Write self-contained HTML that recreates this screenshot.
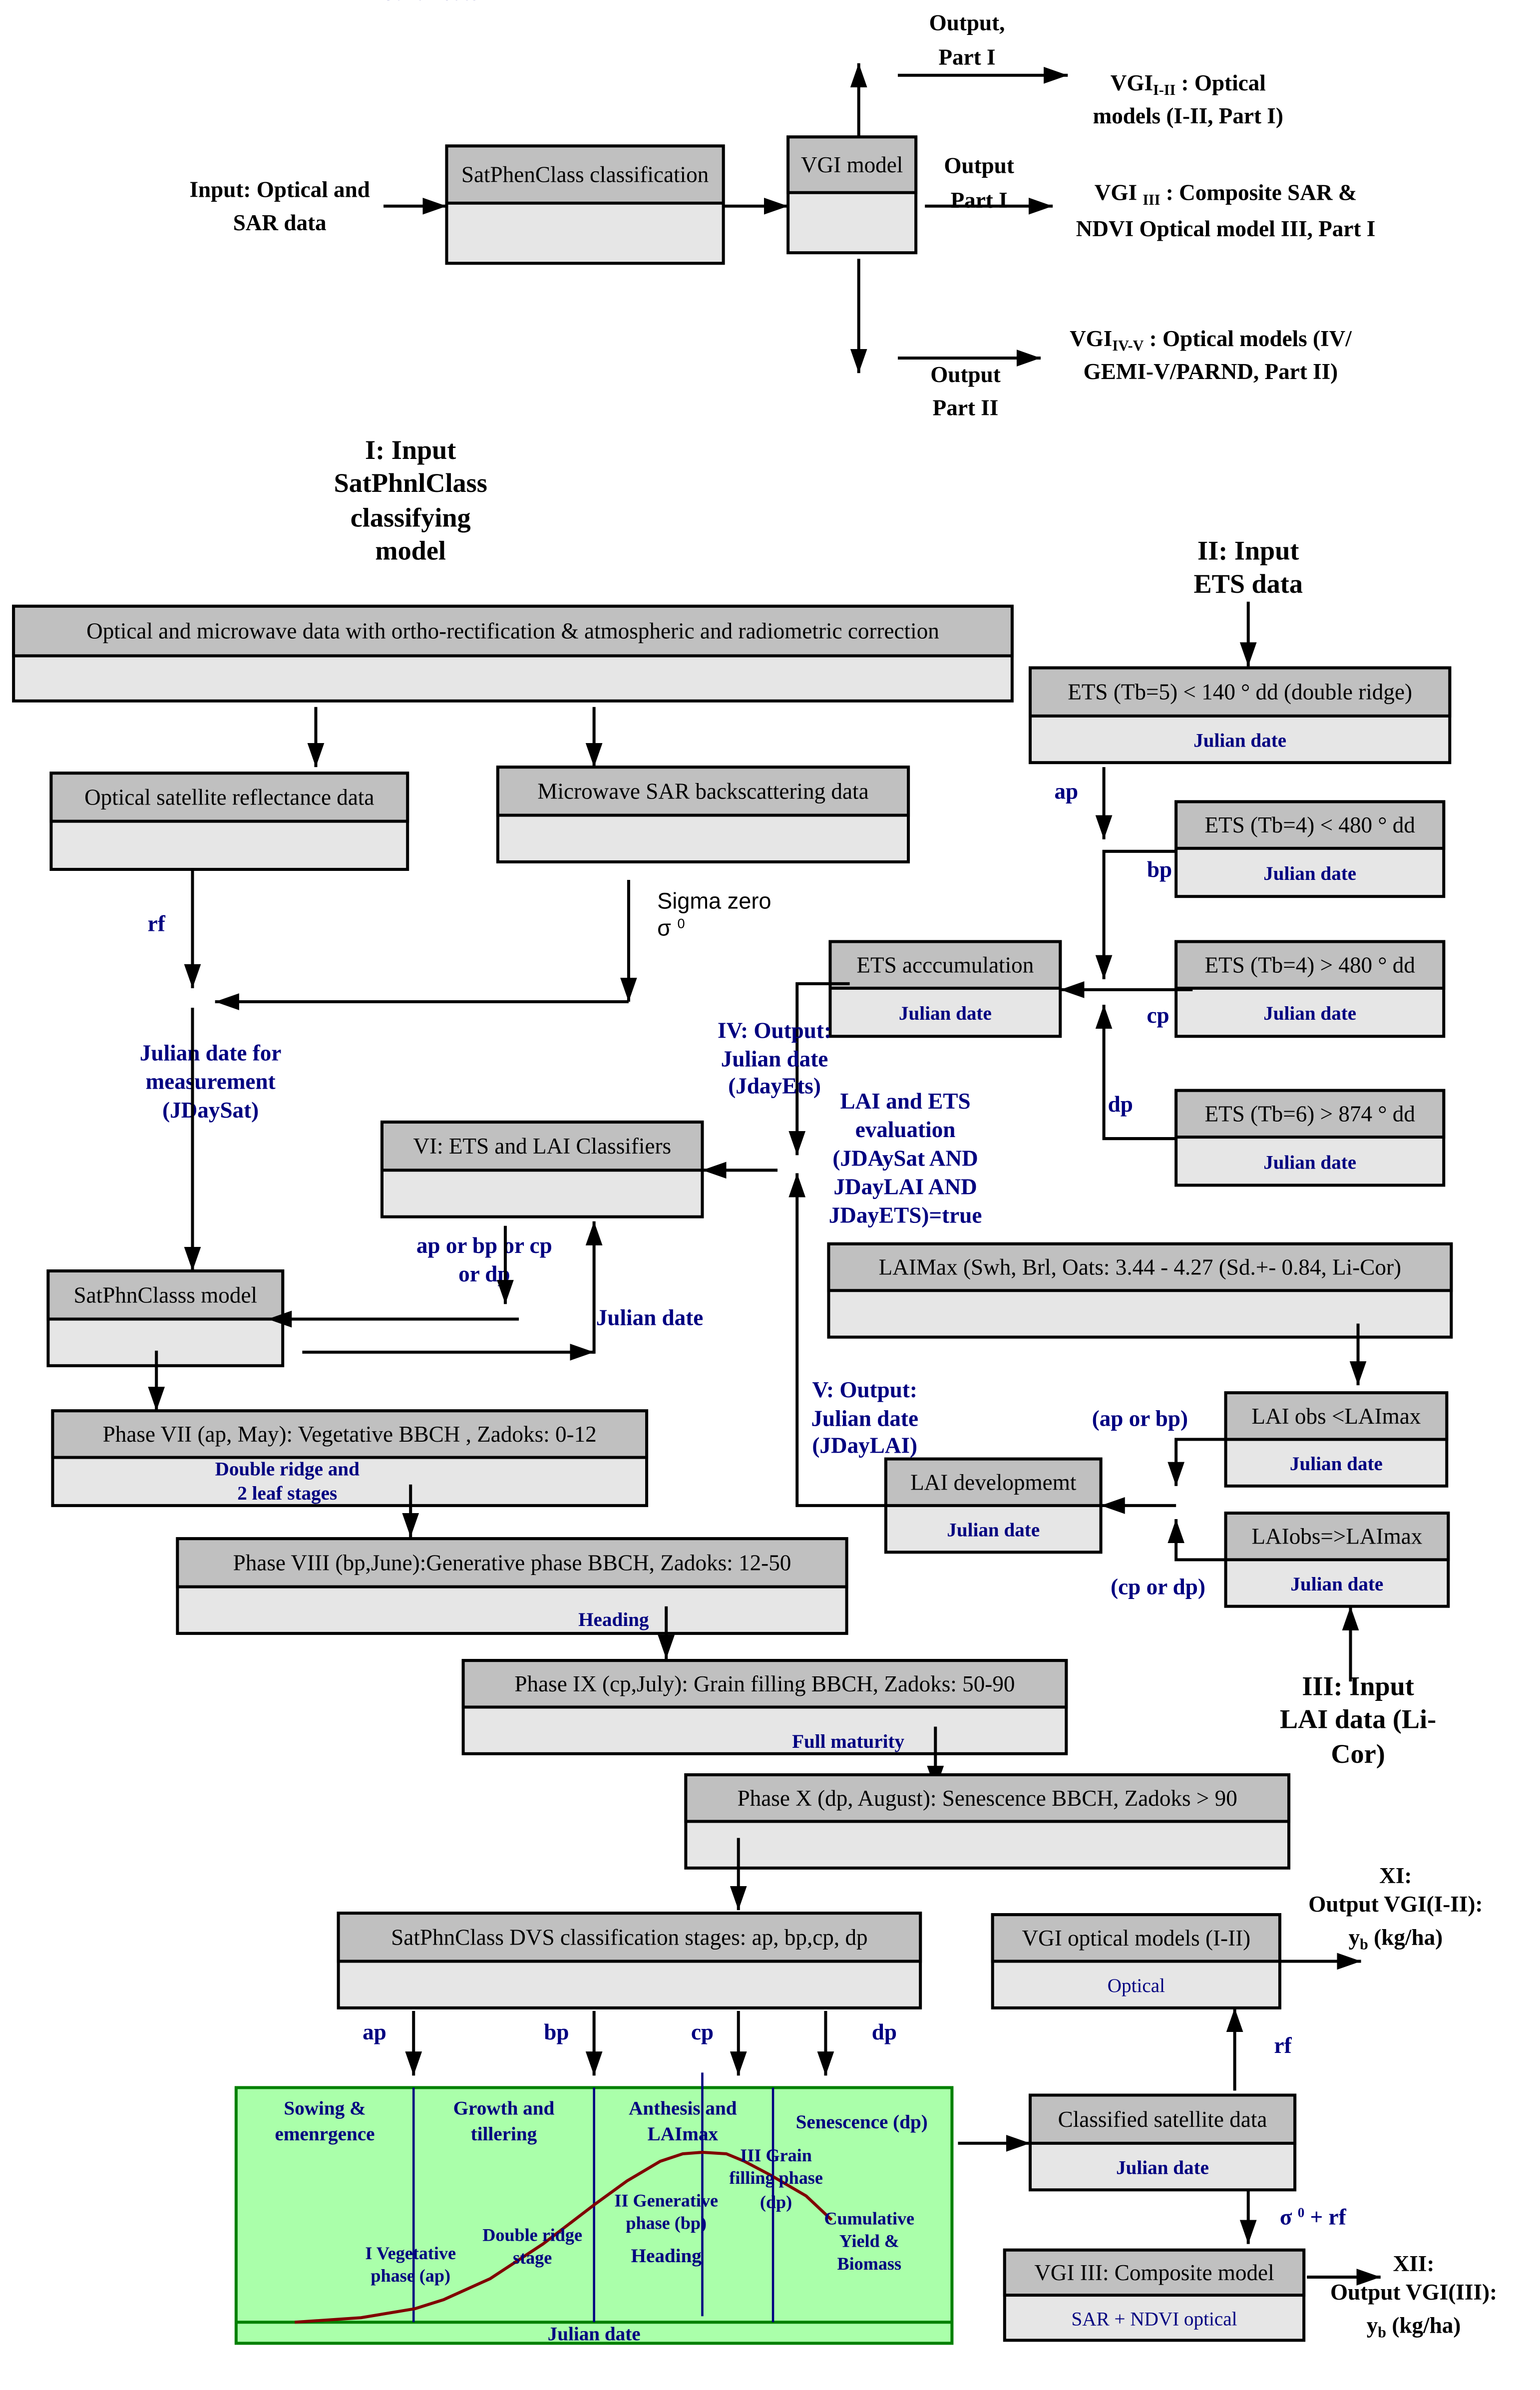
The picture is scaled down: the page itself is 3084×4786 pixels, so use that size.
<!DOCTYPE html>
<html><head><meta charset="utf-8"><style>html,body{margin:0;padding:0;background:#fff}svg{display:block}</style></head>
<body>
<svg id="s" xmlns="http://www.w3.org/2000/svg" width="3084" height="4786" viewBox="0 0 1024 1589" font-family="Liberation Serif, serif">
<defs><marker id="b" viewBox="0 0 10 10" refX="10" refY="5" markerWidth="16" markerHeight="16" markerUnits="userSpaceOnUse" orient="auto"><path d="M0,1.5 L10,5 L0,8.5z" fill="#000"/></marker></defs>
<rect x="157" y="1388" width="476" height="170" fill="#aaffaa" stroke="#008000" stroke-width="2"/>
<g id="g"></g>
</svg>
<script>
const g=document.getElementById('g');let h='';
const N='#000080';
function box(x1,y1,x2,y2,hy,t,sub,subBold=true){
 h+=`<rect x="${x1}" y="${y1}" width="${x2-x1}" height="${y2-y1}" fill="#e6e6e6" stroke="#000" stroke-width="2"/>`;
 h+=`<rect x="${x1}" y="${y1}" width="${x2-x1}" height="${hy-y1}" fill="#c0c0c0" stroke="#000" stroke-width="2"/>`;
 h+=`<text x="${(x1+x2)/2}" y="${(y1+hy)/2+5}" font-size="15" text-anchor="middle">${t}</text>`;
 if(sub)h+=`<text x="${(x1+x2)/2}" y="${(hy+y2)/2+5}" font-size="13" fill="${N}" text-anchor="middle" font-weight="${subBold?'bold':'normal'}">${sub}</text>`;
}
function ar(pts){h+=`<polyline points="${pts}" fill="none" stroke="#000" stroke-width="2" marker-end="url(#b)"/>`;}
function tx(x,ys,lines,o={}){lines.forEach((l,i)=>{h+=`<text x="${x}" y="${ys[i]}" font-size="${o.s||15}" fill="${o.c||'#000'}" font-weight="${o.b?'bold':'normal'}" text-anchor="${o.a||'middle'}" font-family="${o.f||'Liberation Serif, serif'}">${l}</text>`;});}
// top
box(297,97,481,175,135,'SatPhenClass classification');
box(524,91,609,168,128,'VGI model');
ar('255,137 297,137');ar('481,137 524,137');ar('571,91 571,42');ar('597,50 710,50');ar('615,137 700,137');ar('571,172 571,248');ar('597,238 692,238');
tx(186,[131,153],['Input: Optical and','SAR data'],{b:1,s:15});
tx(643,[20,43],['Output,','Part I'],{b:1});
tx(790,[60,82],['VGI<tspan font-size="10" dy="3">I-II</tspan><tspan dy="-3"> : Optical</tspan>','models (I-II, Part I)'],{b:1});
tx(651,[115,138],['Output','Part I'],{b:1});
tx(815,[133,157],['VGI <tspan font-size="10" dy="3">III</tspan><tspan dy="-3"> : Composite SAR &amp;</tspan>','NDVI Optical model III, Part I'],{b:1});
tx(805,[230,252],['VGI<tspan font-size="10" dy="3">IV-V</tspan><tspan dy="-3"> : Optical models (IV/</tspan>','GEMI-V/PARND, Part II)'],{b:1});
tx(642,[254,276],['Output','Part II'],{b:1});
tx(273,[305,327,350,372],['I: Input','SatPhnlClass','classifying','model'],{b:1,s:18});
box(9,403,673,466,436,'Optical and microwave data with ortho-rectification &amp; atmospheric and radiometric correction','');
tx(287,456,['Julian date'],{b:1,c:N,s:13});
ar('210,470 210,510');ar('395,470 395,510');
box(34,514,271,578,546,'Optical satellite reflectance data','');
box(331,510,604,573,542,'Microwave SAR backscattering data','');
tx(104,[619],['rf'],{b:1,c:N});
ar('128,578 128,657');ar('418,585 418,666');ar('418,666 143,666');
tx(437,[604,622],['Sigma zero','σ <tspan font-size="9" dy="-5">0</tspan>'],{a:'start',f:'Liberation Sans, sans-serif',s:15});
tx(140,[705,724,743],['Julian date for','measurement','(JDaySat)'],{b:1,c:N});
ar('128,670 128,845');
box(32,845,188,908,877,'SatPhnClasss model','');
box(254,746,467,809,778,'VI: ETS and LAI Classifiers','');
ar('517,778 467,778');
tx(322,[833,852],['ap or bp or cp','or dp'],{b:1,c:N});
ar('336,815 336,867');ar('395,900 395,812');ar('345,877 178,877');ar('201,899 395,899');
tx(432,[881],['Julian date'],{b:1,c:N});
ar('104,898 104,938');
box(35,938,430,1001,969,'Phase VII (ap, May): Vegetative BBCH , Zadoks: 0-12','');
tx(191,[981,997],['Double ridge and','2 leaf  stages'],{b:1,c:N,s:13});
ar('273,987 273,1022');
box(118,1023,563,1086,1055,'Phase VIII (bp,June):Generative phase  BBCH, Zadoks: 12-50','');
tx(408,[1081],['Heading'],{b:1,c:N,s:13});
ar('443,1068 443,1103');
box(308,1104,709,1166,1135,'Phase IX (cp,July): Grain filling  BBCH, Zadoks: 50-90','');
tx(564,[1162],['Full maturity'],{b:1,c:N,s:13});
ar('622,1148 622,1190');
box(456,1180,857,1242,1211,'Phase X (dp, August): Senescence  BBCH, Zadoks &gt; 90','');
ar('491,1222 491,1270');
box(225,1272,612,1335,1304,'SatPhnClass DVS classification stages:  ap, bp,cp, dp','');
tx(249,[1356],['ap'],{b:1,c:N});tx(370,[1356],['bp'],{b:1,c:N});tx(467,[1356],['cp'],{b:1,c:N});tx(588,[1356],['dp'],{b:1,c:N});
ar('275,1337 275,1380');ar('395,1337 395,1380');ar('491,1337 491,1380');ar('549,1337 549,1380');
// green panel
h+=`<line x1="157" y1="1544" x2="633" y2="1544" stroke="#008000" stroke-width="2"/>`;
[275,395,514].forEach(x=>h+=`<line x1="${x}" y1="1388" x2="${x}" y2="1544" stroke="${N}" stroke-width="1.5"/>`);
h+=`<line x1="467" y1="1378" x2="467" y2="1540" stroke="${N}" stroke-width="1.5"/>`;
h+=`<polyline points="196,1544 240,1541 276,1535 295,1529 326,1515 361,1492 395,1466 417,1450 439,1437 454,1432 467,1431 483,1432 495,1437 512,1446 536,1460 553,1476" fill="none" stroke="#800000" stroke-width="2" stroke-linejoin="round"/>`;
tx(216,[1406,1423],['Sowing &amp;','emenrgence'],{b:1,c:N,s:13});
tx(335,[1406,1423],['Growth and','tillering'],{b:1,c:N,s:13});
tx(454,[1406,1423],['Anthesis and','LAImax'],{b:1,c:N,s:13});
tx(573,[1415],['Senescence (dp)'],{b:1,c:N,s:13});
tx(516,[1437,1452,1468],['III Grain','filling phase','(dp)'],{b:1,c:N,s:12});
tx(443,[1467,1482],['II Generative','phase (bp)'],{b:1,c:N,s:12});
tx(443,[1504],['Heading'],{b:1,c:N,s:13});
tx(354,[1490,1505],['Double ridge','stage'],{b:1,c:N,s:12});
tx(273,[1502,1517],['I Vegetative','phase (ap)'],{b:1,c:N,s:12});
tx(578,[1479,1494,1509],['Cumulative','Yield &amp;','Biomass'],{b:1,c:N,s:12});
tx(395,[1556],['Julian date'],{b:1,c:N,s:13});
ar('637,1425 685,1425');
box(685,1393,861,1456,1425,'Classified satellite data','Julian date');
ar('821,1390 821,1335');tx(853,[1365],['rf'],{b:1,c:N});
box(660,1273,851,1335,1304,'VGI optical models (I-II)','Optical',false);
ar('851,1304 905,1304');
tx(928,[1252,1271,1293],['XI:','Output VGI(I-II):','y<tspan font-size="10" dy="3">b</tspan><tspan dy="-3"> (kg/ha)</tspan>'],{b:1});
ar('830,1456 830,1492');
tx(873,[1479],['σ <tspan font-size="9" dy="-5">0</tspan><tspan dy="5"> + rf</tspan>'],{b:1,c:N});
box(668,1496,867,1556,1526,'VGI III: Composite model','SAR + NDVI optical',false);
ar('869,1514 918,1514');
tx(940,[1510,1529,1551],['XII:','Output VGI(III):','y<tspan font-size="10" dy="3">b</tspan><tspan dy="-3"> (kg/ha)</tspan>'],{b:1});
// right side
tx(830,[372,394],['II: Input','ETS data'],{b:1,s:18});
ar('830,400 830,443');
box(685,444,964,507,476,'ETS (Tb=5) &lt; 140 ° dd (double ridge)','Julian date');
tx(709,[531],['ap'],{b:1,c:N});ar('734,510 734,558');
box(782,533,960,596,564,'ETS (Tb=4) &lt; 480 ° dd','Julian date');
tx(771,[583],['bp'],{b:1,c:N});
ar('782,566 734,566 734,651');
box(782,626,960,689,657,'ETS (Tb=4) &gt; 480 ° dd','Julian date');
tx(770,[680],['cp'],{b:1,c:N});
box(552,626,705,689,657,'ETS acccumulation','Julian date');
ar('793,658 705,658');
box(782,725,960,788,756,'ETS (Tb=6) &gt; 874 ° dd','Julian date');
tx(745,[739],['dp'],{b:1,c:N});
ar('782,757 734,757 734,668');
ar('565,654 530,654 530,768');
tx(515,[690,709,727],['IV: Output:','Julian date','(JdayEts)'],{b:1,c:N});
tx(602,[737,756,775,794,813],['LAI and ETS','evaluation','(JDAySat AND','JDayLAI AND','JDayETS)=true'],{b:1,c:N});
ar('589,1001 530,1001 530,780');
box(551,827,965,889,858,'LAIMax (Swh, Brl, Oats: 3.44 - 4.27 (Sd.+- 0.84, Li-Cor)','');
ar('903,880 903,921');
box(815,926,962,988,957,'LAI obs &lt;LAImax','Julian date');
tx(758,[948],['(ap or bp)'],{b:1,c:N});
ar('815,957 782,957 782,988');
box(815,1006,963,1068,1037,'LAIobs=&gt;LAImax','Julian date');
tx(770,[1060],['(cp or dp)'],{b:1,c:N});
ar('815,1037 782,1037 782,1010');
box(589,970,732,1032,1001,'LAI developmemt','Julian date');
ar('782,1001 732,1001');
ar('898,1118 898,1068');
tx(903,[1127,1149,1172],['III: Input','LAI data (Li-','Cor)'],{b:1,s:18});
tx(575,[929,948,966],['V: Output:','Julian date','(JDayLAI)'],{b:1,c:N});
g.innerHTML=h;
</script>
</body></html>
